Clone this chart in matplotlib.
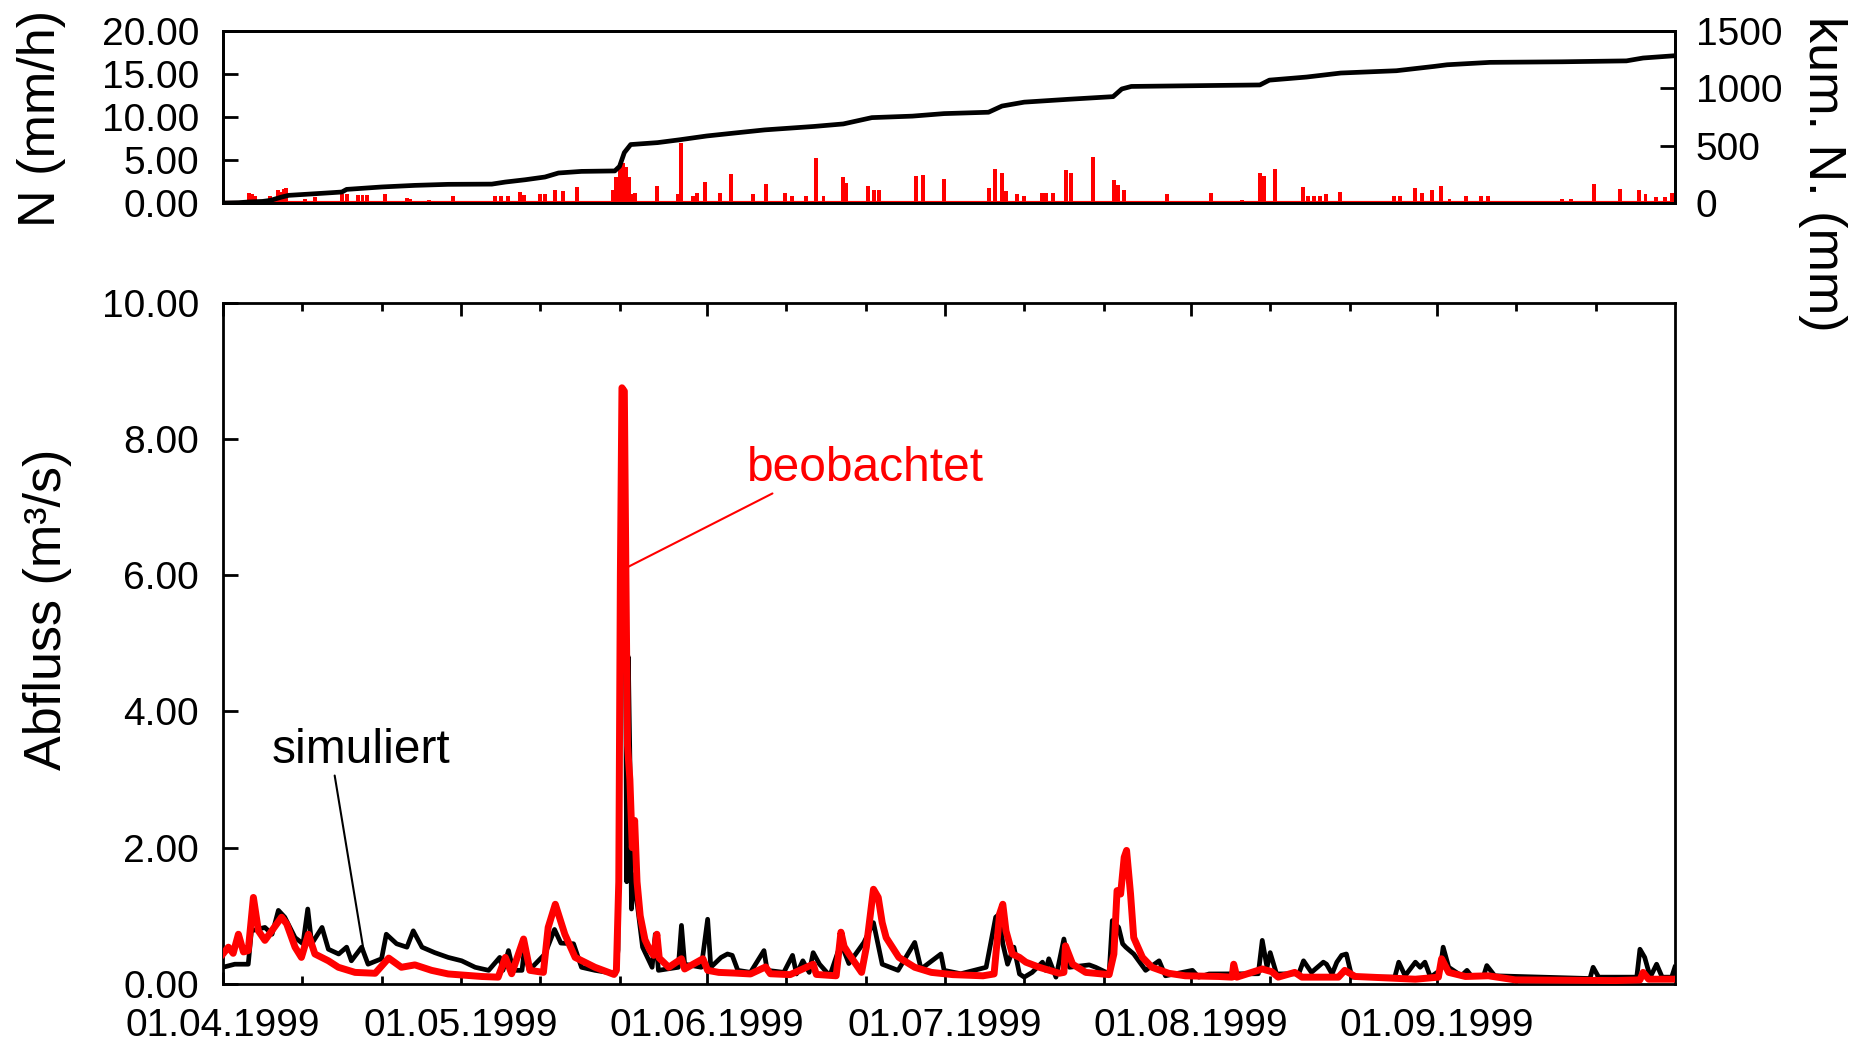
import numpy as np
import pandas as pd
import matplotlib
matplotlib.use("Agg")
import matplotlib.pyplot as plt
import matplotlib.dates as mdates
from matplotlib.ticker import FormatStrFormatter

plt.rcParams['font.family'] = ['Liberation Sans', 'DejaVu Sans']

# Tage ab 01.04.1999 00:00
start = pd.Timestamp('1999-04-01')

# Niederschlag (mm/h)
rain_day = [3.3, 3.7, 4.0, 6.0, 6.4, 6.9, 7.3, 7.7, 8.0, 10.4, 11.6, 15.0, 15.6, 17.0, 17.6, 18.2,
            20.4, 23.2, 23.6, 26.0, 29.0, 34.3, 35.0, 35.9, 37.5, 38.0, 40.0, 40.6, 41.9, 42.9, 44.6,
            49.2, 49.6, 50.0, 50.4, 50.8, 51.2, 51.6, 51.9, 54.7, 57.3, 57.8, 59.3, 59.8, 60.8, 62.6,
            64.0, 66.8, 68.5, 70.9, 71.7, 73.5, 74.7, 75.7, 78.2, 78.6, 81.3, 82.1, 82.7, 87.4, 88.2,
            90.9, 96.5, 97.3, 98.2, 98.7, 100.1, 101.0, 103.2, 103.8, 104.6, 106.3, 106.9, 109.7,
            112.3, 112.8, 113.6, 119.0, 124.6, 128.5, 130.7, 131.2, 132.6, 136.1, 136.8, 137.5,
            138.3, 139.0, 140.8, 147.6, 148.3, 150.3, 151.1, 152.4, 153.5, 154.6, 156.7, 158.6,
            159.5, 168.8, 169.9, 172.8, 176.1, 178.5, 179.3, 180.6, 181.8, 182.7]
rain_mmh = [1.16, 1.0, 0.8, 0.78, 0.6, 1.5, 1.3, 1.67, 1.78, 0.5, 0.7, 1.1, 1.1, 0.9, 0.9, 0.9,
            1.0, 0.6, 0.5, 0.3, 0.78, 0.8, 0.8, 0.8, 1.28, 0.9, 1.0, 1.0, 1.55, 1.4, 1.86,
            1.5, 3.0, 4.4, 4.6, 4.2, 3.0, 1.1, 1.2, 2.0, 1.1, 7.0, 0.8, 1.2, 2.4, 1.2,
            3.36, 1.1, 2.2, 1.2, 0.8, 0.8, 5.2, 0.8, 3.0, 2.3, 2.0, 1.5, 1.5, 3.1, 3.3,
            2.8, 1.7, 3.9, 3.5, 1.35, 1.0, 0.8, 1.2, 1.2, 1.2, 3.8, 3.5, 5.3,
            2.7, 2.1, 1.5, 1.0, 1.2, 0.3, 3.5, 3.1, 3.9, 1.86, 0.8, 0.8,
            0.8, 1.0, 1.24, 0.8, 0.8, 1.8, 1.2, 1.55, 2.0, 0.5, 0.8, 0.85,
            0.85, 0.5, 0.5, 2.25, 1.67, 1.5, 1.0, 0.7, 0.7, 1.16]

# kumulierter Niederschlag (mm)
cum_day = [0, 2.0, 3.2, 5.0, 6.0, 7.4, 8.3, 11.6, 15.0, 15.6, 20.0, 24.2, 28.4, 33.9, 35.6, 38.1,
           40.6, 42.3, 45.2, 49.4, 50.0, 50.6, 51.4, 54.8, 57.6, 61.0, 64.4, 68.3, 74.5, 78.2,
           81.8, 86.9, 90.9, 96.5, 98.2, 101.0, 106.6, 112.2, 113.3, 114.5, 120.7, 130.7, 131.9,
           136.6, 140.9, 147.9, 152.7, 154.3, 159.7, 168.8, 176.9, 179.0, 183.0]
cum_mm = [0, 3, 9, 14, 23, 52, 67, 81, 96, 119, 140, 154, 163, 165, 183, 203,
          227, 262, 276, 280, 320, 440, 510, 527, 552, 585, 610, 638, 668, 690,
          745, 758, 780, 792, 846, 880, 905, 928, 995, 1017, 1022, 1030, 1072,
          1099, 1134, 1154, 1192, 1206, 1227, 1232, 1240, 1265, 1285]

# Abfluss beobachtet (m3/s)
obs_day = [0.0, 0.7, 1.3, 1.96, 2.6, 3.2, 3.85, 4.48, 5.3, 6.16, 7.4, 8.05, 9.1, 9.9, 10.78, 11.6,
           13.3, 14.56, 16.66, 19.2, 20.9, 22.5, 24.2, 26.3, 28.4, 32.6, 34.7, 35.6, 36.4, 37.9,
           38.7, 40.4, 41.0, 41.9, 43.1, 44.4, 46.9, 49.3, 49.6, 49.9, 50.1, 50.3, 50.6, 50.8,
           51.0, 51.3, 51.6, 51.9, 52.2, 52.6, 53.2, 53.8, 54.3, 54.7, 55.0, 56.2, 57.8, 58.2,
           60.5, 61.1, 62.5, 64.5, 66.5, 68.4, 69.0, 71.5, 74.4, 74.8, 77.3, 77.9, 78.3, 78.9,
           80.5, 81.1, 82.0, 82.6, 83.1, 83.6, 85.2, 87.2, 89.3, 92.0, 95.8, 97.2, 97.9, 98.3,
           98.7, 99.5, 100.4, 101.2, 102.9, 105.4, 106.0, 106.2, 107.1, 108.75, 111.7, 112.3,
           112.7, 113.15, 113.6, 113.9, 114.4, 114.8, 115.9, 117.1, 119.2, 121.3, 125.5, 127.2,
           127.4, 127.8, 131.0, 132.2, 133.0, 135.1, 136.0, 139.75, 140.6, 141.4, 142.7, 150.3,
           153.2, 153.6, 154.5, 156.6, 159.5, 162.9, 175.5, 178.6, 179.0, 179.7, 183.0]
obs_q = [0.44, 0.54, 0.45, 0.73, 0.47, 0.49, 1.27, 0.78, 0.64, 0.78, 0.98, 0.88, 0.54, 0.39, 0.73, 0.44,
         0.34, 0.245, 0.17, 0.157, 0.38, 0.245, 0.28, 0.2, 0.147, 0.11, 0.1, 0.39, 0.15, 0.66,
         0.2, 0.17, 0.83, 1.17, 0.73, 0.39, 0.245, 0.14, 0.2, 1.5, 6.0, 8.75, 8.7, 6.0,
         3.5, 3.0, 2.0, 2.4, 1.5, 1.0, 0.65, 0.5, 0.42, 0.73, 0.38, 0.245, 0.37, 0.22,
         0.37, 0.2, 0.17, 0.16, 0.147, 0.25, 0.15, 0.137, 0.29, 0.14, 0.12, 0.76, 0.55, 0.44,
         0.17, 0.54, 1.39, 1.27, 0.9, 0.68, 0.39, 0.245, 0.17, 0.137, 0.12, 0.147, 1.03, 1.17,
         0.78, 0.44, 0.39, 0.32, 0.245, 0.157, 0.17, 0.56, 0.29, 0.17, 0.137, 0.44,
         1.37, 1.32, 1.86, 1.96, 1.32, 0.68, 0.39, 0.245, 0.157, 0.12, 0.11, 0.1,
         0.29, 0.1, 0.22, 0.18, 0.1, 0.17, 0.1, 0.1, 0.1, 0.2, 0.11, 0.07,
         0.1, 0.37, 0.17, 0.11, 0.12, 0.06, 0.05, 0.06, 0.17, 0.07, 0.07]

# Abfluss simuliert (m3/s)
sim_day = [0.0, 1.5, 3.2, 3.6, 5.3, 6.2, 7.0, 7.8, 9.1, 10.1, 10.7, 11.2, 12.5, 13.3, 14.6, 15.6,
           16.2, 17.5, 18.3, 20.0, 20.6, 21.9, 23.2, 24.0, 25.1, 26.7, 28.4, 30.1, 31.8, 33.5,
           34.9, 35.3, 36.0, 36.6, 37.7, 38.0, 38.6, 40.6, 41.8, 42.6, 44.2, 45.2, 46.9, 49.5,
           49.8, 50.1, 50.4, 50.7, 50.9, 51.1, 51.3, 51.5, 51.8, 52.2, 52.9, 54.1, 54.5, 54.9,
           57.4, 57.8, 58.2, 60.3, 61.1, 61.5, 62.8, 63.6, 64.2, 64.9, 66.5, 68.2, 68.6, 70.7,
           71.8, 72.3, 73.1, 73.9, 74.4, 75.2, 76.5, 77.9, 78.9, 80.8, 82.0, 83.1, 85.1, 87.2,
           88.0, 90.5, 90.9, 93.0, 96.2, 97.4, 97.9, 98.3, 98.9, 99.7, 100.4, 101.0, 102.0,
           103.3, 103.7, 104.1, 105.0, 106.0, 106.7, 109.2, 110.0, 111.7, 112.1, 112.9, 113.4,
           113.8, 114.8, 116.3, 118.0, 118.8, 122.2, 123.0, 124.3, 130.5, 131.0, 131.6, 132.0,
           132.8, 135.6, 136.2, 137.2, 138.7, 139.1, 139.8, 140.4, 141.0, 141.6, 142.3, 147.7,
           148.2, 149.0, 150.3, 150.9, 151.5, 152.2, 153.4, 153.8, 154.5, 156.1, 156.8, 157.4,
           158.9, 159.3, 160.3, 172.3, 172.7, 173.4, 178.2, 178.6, 179.2, 179.9, 180.7, 181.4,
           182.6, 183.0]
sim_q = [0.245, 0.29, 0.29, 0.78, 0.83, 0.73, 1.08, 0.98, 0.68, 0.59, 1.1, 0.59, 0.83, 0.51, 0.44, 0.54,
         0.34, 0.54, 0.29, 0.37, 0.73, 0.59, 0.54, 0.78, 0.54, 0.46, 0.39, 0.34, 0.245, 0.2,
         0.39, 0.2, 0.49, 0.2, 0.2, 0.5, 0.2, 0.44, 0.8, 0.6, 0.59, 0.245, 0.2, 0.15,
         0.5, 5.5, 7.75, 6.0, 1.5, 4.8, 3.3, 1.1, 1.6, 1.2, 0.54, 0.245, 0.73, 0.2,
         0.245, 0.86, 0.29, 0.245, 0.95, 0.245, 0.39, 0.44, 0.42, 0.2, 0.17, 0.49, 0.2, 0.17,
         0.42, 0.147, 0.34, 0.17, 0.46, 0.29, 0.12, 0.6, 0.3, 0.61, 0.9, 0.29, 0.2, 0.61,
         0.22, 0.44, 0.2, 0.15, 0.245, 0.98, 1.03, 0.59, 0.29, 0.54, 0.147, 0.1, 0.17,
         0.32, 0.2, 0.37, 0.1, 0.66, 0.245, 0.28, 0.245, 0.15, 0.93, 0.83, 0.59,
         0.54, 0.44, 0.2, 0.34, 0.12, 0.2, 0.1, 0.147, 0.15, 0.64, 0.245, 0.46,
         0.147, 0.15, 0.34, 0.17, 0.32, 0.29, 0.147, 0.32, 0.42, 0.44, 0.1, 0.1,
         0.32, 0.12, 0.32, 0.245, 0.32, 0.1, 0.2, 0.54, 0.245, 0.12, 0.2, 0.11,
         0.12, 0.27, 0.12, 0.08, 0.245, 0.1, 0.1, 0.51, 0.39, 0.1, 0.29, 0.1,
         0.1, 0.245]


def to_dates(days):
    return start + pd.to_timedelta(np.asarray(days, dtype=float), unit='D')


t0 = start
t1 = start + pd.Timedelta(days=183)

fig = plt.figure(figsize=(18.68, 10.46), dpi=100)
ax1 = fig.add_axes([0.1193, 0.8059, 0.7773, 0.1644])
ax2 = fig.add_axes([0.1193, 0.0593, 0.7773, 0.6514])

# --- oben: Niederschlag ---
ax1.bar(to_dates(rain_day), rain_mmh, width=0.5, color='#ff0000', linewidth=0, zorder=2)
ax1.axhline(0, color='#ff0000', lw=3, zorder=2)
ax1.set_xlim(t0, t1)
ax1.set_ylim(0, 20)
ax1.set_yticks([0, 5, 10, 15, 20])
ax1.yaxis.set_major_formatter(FormatStrFormatter('%.2f'))
ax1.set_xticks([])
ax1.tick_params(axis='y', direction='in', length=11, width=2, labelsize=28, pad=17)

ax1r = ax1.twinx()
ax1r.plot(to_dates(cum_day), cum_mm, color='black', lw=3.4, zorder=3)
ax1r.set_ylim(0, 1500)
ax1r.set_yticks([0, 500, 1000, 1500])
ax1r.tick_params(axis='y', direction='in', length=11, width=2, labelsize=28, pad=15)
ax1r.set_xlim(t0, t1)

# --- unten: Abfluss ---
ax2.plot(to_dates(sim_day), sim_q, color='black', lw=3.4, zorder=2)
ax2.plot(to_dates(obs_day), obs_q, color='#ff0000', lw=5, zorder=3)
ax2.set_xlim(t0, t1)
ax2.set_ylim(0, 10)
ax2.set_yticks([0, 2, 4, 6, 8, 10])
ax2.yaxis.set_major_formatter(FormatStrFormatter('%.2f'))
ax2.xaxis.set_major_locator(mdates.MonthLocator(bymonth=range(4, 10)))
ax2.xaxis.set_minor_locator(mdates.DayLocator(bymonthday=[11, 21]))
ax2.xaxis.set_major_formatter(mdates.DateFormatter('%d.%m.%Y'))
ax2.tick_params(axis='y', direction='in', length=11, width=2, labelsize=28, pad=17)
ax2.tick_params(axis='x', which='major', direction='in', length=9, width=2,
                labelsize=28, pad=17, top=True)
ax2.tick_params(axis='x', which='minor', direction='in', length=6, width=2, top=True)

for a in (ax1, ax1r, ax2):
    for s in a.spines.values():
        s.set_linewidth(2)

# Achsenbeschriftungen
fig.text(42 / 1868, 1 - 118 / 1046, 'N (mm/h)', rotation=90, ha='center', va='center', fontsize=37.5)
fig.text(48 / 1868, 1 - 609 / 1046, 'Abfluss (m³/s)', rotation=90, ha='center', va='center', fontsize=37.5)
fig.text(1823 / 1868, 1 - 174 / 1046, 'kum. N. (mm)', rotation=270, ha='center', va='center', fontsize=37.5)

# Beschriftung der Ganglinien
ax2.annotate('simuliert', xy=(to_dates([17.7])[0], 0.52), xytext=(to_dates([6.15])[0], 3.43),
             fontsize=34.5, color='black', va='center', ha='left',
             arrowprops=dict(arrowstyle='-', color='black', lw=1.5,
                             shrinkA=0, shrinkB=0, relpos=(0.35, 0.0)))
ax2.annotate('beobachtet', xy=(to_dates([51.05])[0], 6.12), xytext=(to_dates([66.07])[0], 7.57),
             fontsize=34.5, color='#ff0000', va='center', ha='left',
             arrowprops=dict(arrowstyle='-', color='#ff0000', lw=1.5,
                             shrinkA=0, shrinkB=0, relpos=(0.13, 0.0)))

fig.savefig('out.png', dpi=100)
